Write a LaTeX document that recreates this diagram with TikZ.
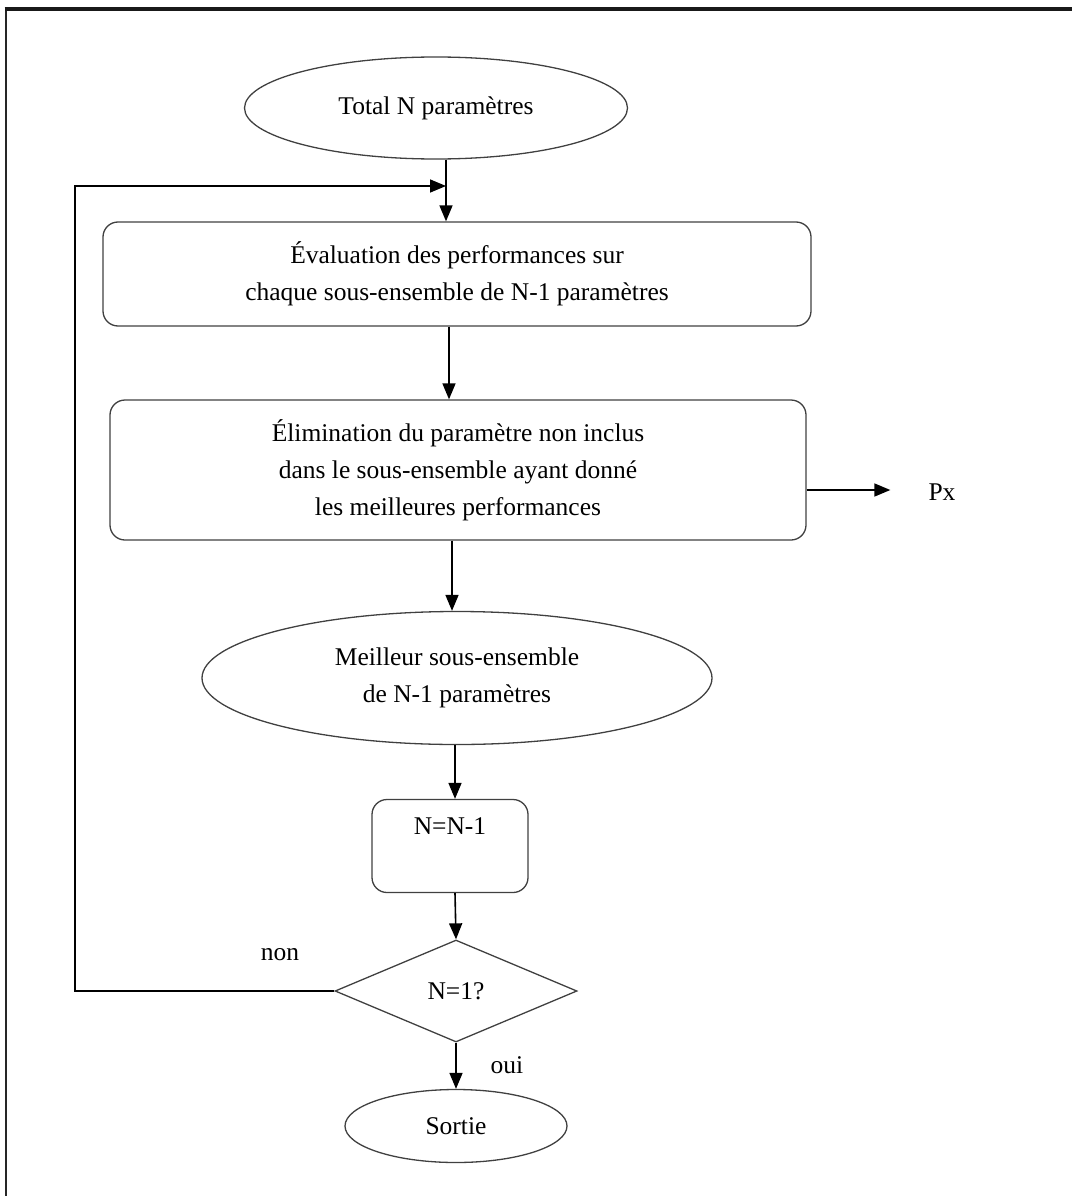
\documentclass[tikz,border=0pt]{standalone}
\usepackage{fontspec}
\setmainfont{Liberation Serif}
\usetikzlibrary{positioning, arrows.meta, shapes.geometric}

\tikzset{
  flow/.style={draw=black, line width=1.6pt, -{Triangle[length=16pt, width=13pt]}},
  procbox/.style={draw=black!75, line width=1.3pt, rounded corners=15pt, align=center, inner sep=0pt},
  termell/.style={draw=black!75, line width=1.3pt, ellipse, align=center, inner sep=0pt},
  decdiam/.style={draw=black!75, line width=1.3pt, diamond, inner sep=0pt},
  tag/.style={inner sep=3pt}
}

\begin{document}
\begin{tikzpicture}[x=1pt, y=-1pt, font=\fontsize{25.5}{37}\selectfont]
        \useasboundingbox (0,0) rectangle (1072,1196);
        \draw[black!85, line width=2.6pt] (6,1196) -- (6,9);
        \draw[black!90, line width=3.4pt] (4.7,9) -- (1072,9);

        \node[termell, minimum width=383pt, minimum height=102pt] (start) at (436,108) {Total N paramètres};
        \node[procbox, minimum width=708pt, minimum height=104pt] (eval) at (457,274)
          {Évaluation des performances sur\\chaque sous-ensemble de N-1 paramètres};
        \node[procbox, minimum width=696pt, minimum height=140pt] (elim) at (458,470)
          {Élimination du paramètre non inclus\\dans le sous-ensemble ayant donné\\les meilleures performances};
        \node[tag] (px) at (942,492) {Px};
        \node[termell, minimum width=510pt, minimum height=133pt] (best) at (457,678)
          {Meilleur sous-ensemble\\de N-1 paramètres};
        \node[procbox, minimum width=156pt, minimum height=93pt, text height=18pt, text depth=42pt] (nbox) at (450,846) {N=N-1};
        \node[decdiam, minimum width=242pt, minimum height=102pt, aspect=2.4] (dec) at (456,991) {N=1?};
        \node[termell, minimum width=222pt, minimum height=73pt] (sortie) at (456,1126) {Sortie};
        \node[tag] (non) at (280,955) {non};
        \node[tag] (oui) at (507,1065) {oui};

        \coordinate (merge) at (446,186);
        \coordinate (loopc) at (75,186);

        \draw[black, line width=1.6pt] (merge |- start.south) -- (merge);
        \draw[flow] (merge) -- (merge |- eval.north);
        \draw[flow] (dec.west) -| (loopc) -- (merge);
        \draw[flow] ([xshift=-8pt]eval.south) -- ([xshift=-8pt]eval.south |- elim.north);
        \draw[flow] ([xshift=-6pt]elim.south) -- ([xshift=-6pt]elim.south |- best.north);
        \draw[flow] ([yshift=-20pt]elim.east) -- ([yshift=-20pt, xshift=-35pt]elim.east -| px.west);
        \draw[flow] ([xshift=-2pt]best.south) -- ([xshift=-2pt]best.south |- nbox.north);
        \draw[flow] ([xshift=5pt]nbox.south) -- (dec.north);
        \draw[flow] (dec.south) -- (sortie.north);
      \end{tikzpicture}
\end{document}
